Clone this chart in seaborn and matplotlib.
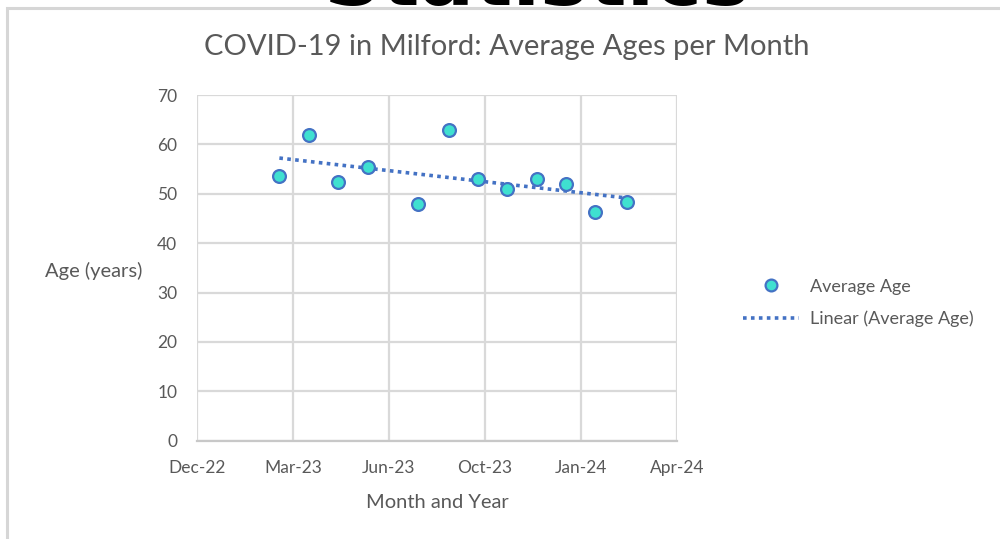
import pandas as pd
import matplotlib
matplotlib.use("Agg")
import matplotlib.pyplot as plt
import matplotlib.dates as mdates
from matplotlib.patches import Rectangle
from matplotlib.lines import Line2D
import seaborn as sns

# data
months = ["2023-03-01", "2023-04-01", "2023-05-01", "2023-06-01", "2023-07-23",
          "2023-08-24", "2023-09-24", "2023-10-24", "2023-11-24", "2023-12-24",
          "2024-01-23", "2024-02-26"]
avg_age = [53.6, 62.0, 52.4, 55.4, 47.9, 62.9, 52.9, 50.9, 52.9, 52.0, 46.3, 48.3]

tick_dates = ["2022-12-05", "2023-03-15", "2023-06-23", "2023-10-01", "2024-01-09", "2024-04-18"]
tick_labels = ["Dec-22", "Mar-23", "Jun-23", "Oct-23", "Jan-24", "Apr-24"]
y_ticks = [0, 10, 20, 30, 40, 50, 60, 70]

df = pd.DataFrame({"date": pd.to_datetime(months), "age": avg_age})
df["x"] = mdates.date2num(df["date"])
xticks = mdates.date2num(pd.to_datetime(tick_dates))

sns.set_theme(style="whitegrid")
plt.rcParams["font.family"] = ["Lato", "DejaVu Sans"]

text_grey = "#595959"
grid_grey = "#d9d9d9"
blue = "#4472c4"
fill = "#3fe0d0"

fig = plt.figure(figsize=(10, 5.39), dpi=100)
ax = fig.add_axes([0.1967, 0.1824, 0.4806, 0.6413])

sns.regplot(data=df, x="x", y="age", ax=ax, scatter=False, ci=None,
            line_kws=dict(color=blue, linestyle=(0, (1, 1.2)), linewidth=2.6))
sns.scatterplot(data=df, x="x", y="age", ax=ax, s=85, color=fill,
                edgecolor=blue, linewidth=1.6, zorder=3)

ax.set_xlim(xticks[0], xticks[-1])
ax.set_ylim(0, 70)
ax.set_xticks(xticks)
ax.set_xticklabels(tick_labels)
ax.set_yticks(y_ticks)
ax.tick_params(axis="both", colors=text_grey, labelsize=12.5, length=0)
ax.tick_params(axis="y", pad=14)
ax.tick_params(axis="x", pad=14)
ax.grid(True, color=grid_grey, linewidth=1.6)
for side in ["left", "right", "top"]:
    ax.spines[side].set_visible(False)
ax.spines["bottom"].set_color("#c8c8c8")
ax.spines["bottom"].set_linewidth(1.6)

ax.set_xlabel("Month and Year", fontsize=14.5, color=text_grey, labelpad=13)
ax.set_ylabel("Age (years)", fontsize=14.5, color=text_grey, rotation=0,
              ha="right", va="center")
ax.yaxis.set_label_coords(-0.114, 0.49)

fig.text(0.507, 1 - 47 / 539, "COVID-19 in Milford: Average Ages per Month",
         ha="center", va="center", fontsize=21, color=text_grey)

handles = [
    Line2D([], [], marker="o", linestyle="none", markersize=8.5,
           markerfacecolor=fill, markeredgecolor=blue, markeredgewidth=1.6),
    Line2D([], [], color=blue, linestyle=(0, (1, 1.2)), linewidth=2.6),
]
fig.legend(handles, ["Average Age", "Linear (Average Age)"], loc="center left",
           bbox_to_anchor=(0.727, 1 - 303 / 539), frameon=False, fontsize=13,
           labelcolor=text_grey, handlelength=3.1, handletextpad=0.6,
           labelspacing=0.9)

# outer chart frame and the cut-off page heading
fig.patches.append(Rectangle((0.0065, -0.05), 1.1, 1 - 7.5 / 539 + 0.05,
                             transform=fig.transFigure, fill=False,
                             edgecolor="#d6d6d6", linewidth=2.2))
fig.text(0.537, 1 - 5 / 539, "Statistics", ha="center", va="baseline",
         fontsize=58, fontweight="bold", color="black",
         family=["DejaVu Sans"])

fig.savefig("out.png", dpi=100)
